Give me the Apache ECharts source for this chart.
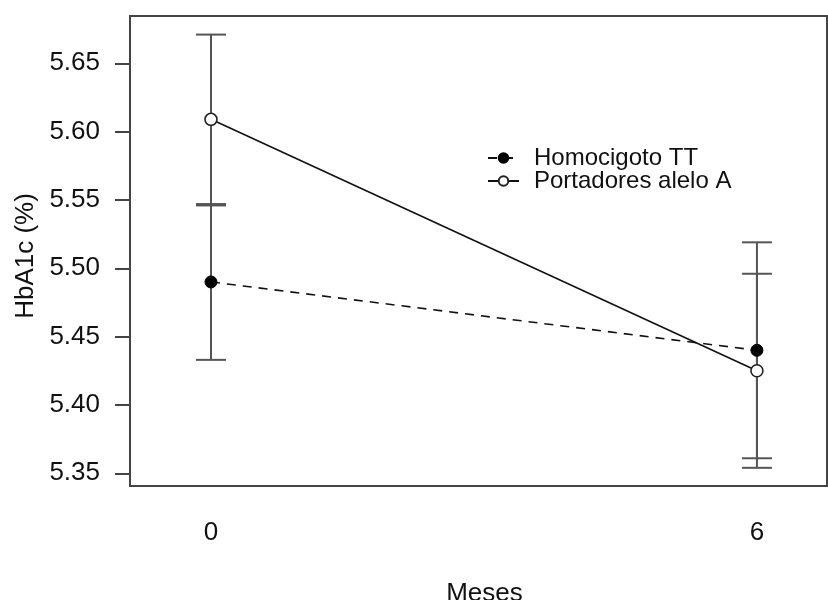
<!DOCTYPE html>
<html>
<head>
<meta charset="utf-8">
<script src="https://cdn.jsdelivr.net/npm/echarts@6/dist/echarts.min.js"></script>
<style>html,body{margin:0;padding:0;background:#fff}#c{width:828px;height:600px}</style>
</head>
<body>
<div id="c"></div>
<script>
// Data
const months = [0, 6];
const yTicks = [5.35, 5.40, 5.45, 5.50, 5.55, 5.60, 5.65];
const seriesNames = ['Homocigoto TT', 'Portadores alelo A'];
const ttMean = [5.49, 5.44];
const ttLow = [5.433, 5.361];
const ttHigh = [5.546, 5.519];
const aMean = [5.609, 5.425];
const aLow = [5.547, 5.354];
const aHigh = [5.671, 5.496];

const font = 'Liberation Sans, Arial, Helvetica, sans-serif';
const chart = echarts.init(document.getElementById('c'), null, {renderer: 'canvas'});

function errData(low, high) {
  return months.map((m, i) => [m, low[i], high[i]]);
}
function errRender(params, api) {
  const x = api.value(0);
  const lo = api.coord([x, api.value(1)]);
  const hi = api.coord([x, api.value(2)]);
  const w = 15;
  const st = {stroke: '#555', lineWidth: 2};
  return {
    type: 'group',
    children: [
      {type: 'line', shape: {x1: lo[0], y1: lo[1], x2: hi[0], y2: hi[1]}, style: st},
      {type: 'line', shape: {x1: lo[0] - w, y1: lo[1], x2: lo[0] + w, y2: lo[1]}, style: st},
      {type: 'line', shape: {x1: hi[0] - w, y1: hi[1], x2: hi[0] + w, y2: hi[1]}, style: st}
    ]
  };
}

chart.setOption({
  animation: false,
  backgroundColor: '#fff',
  textStyle: {fontFamily: font},
  grid: {left: 130, right: 1, top: 16, bottom: 114, containLabel: false, outerBoundsMode: 'none',
    show: true, borderColor: '#444', borderWidth: 2, backgroundColor: 'transparent'},
  legend: {
    orient: 'vertical',
    left: 487,
    top: 146,
    padding: 0,
    itemWidth: 31,
    itemHeight: 12,
    itemGap: -1,
    textStyle: {fontSize: 24, color: '#111', fontFamily: font, lineHeight: 21, padding: [0, 0, 0, 10]},
    data: seriesNames
  },
  xAxis: {
    type: 'value',
    min: -0.89,
    max: 6.77,
    name: 'Meses',
    nameLocation: 'middle',
    nameGap: 95,
    nameTextStyle: {fontSize: 26, color: '#111', fontFamily: font, padding: [0, 0, 0, 12]},
    axisLine: {show: false, onZero: false},
    axisTick: {show: false},
    splitLine: {show: false},
    axisLabel: {customValues: months, margin: 34, fontSize: 26, color: '#111', fontFamily: font}
  },
  yAxis: {
    type: 'value',
    min: 5.3407,
    max: 5.6846,
    name: 'HbA1c (%)',
    nameLocation: 'middle',
    nameGap: 90,
    nameTextStyle: {fontSize: 26, color: '#111', fontFamily: font, padding: [0, 10, 0, 0]},
    axisLine: {show: false, onZero: false},
    splitLine: {show: false},
    axisTick: {show: true, customValues: yTicks, length: 15, inside: false, lineStyle: {color: '#444', width: 2}},
    axisLabel: {customValues: yTicks, margin: 30, fontSize: 26, color: '#111', fontFamily: font,
      padding: [4, 0, 0, 0], formatter: v => v.toFixed(2)}
  },
  series: [
    {type: 'custom', name: 'errTT', renderItem: errRender, data: errData(ttLow, ttHigh), z: 1, silent: true},
    {type: 'custom', name: 'errA', renderItem: errRender, data: errData(aLow, aHigh), z: 1, silent: true},
    {
      type: 'line', name: seriesNames[0], z: 3,
      data: months.map((m, i) => [m, ttMean[i]]),
      symbol: 'circle', symbolSize: 12,
      lineStyle: {color: '#111', width: 1.6, type: [9, 7]},
      itemStyle: {color: '#000', borderColor: '#000', borderWidth: 1}
    },
    {
      type: 'line', name: seriesNames[1], z: 3,
      data: months.map((m, i) => [m, aMean[i]]),
      symbol: 'circle', symbolSize: 12,
      lineStyle: {color: '#111', width: 1.6, type: 'solid'},
      itemStyle: {color: '#fff', borderColor: '#222', borderWidth: 1.6}
    }
  ]
});
</script>
</body>
</html>
